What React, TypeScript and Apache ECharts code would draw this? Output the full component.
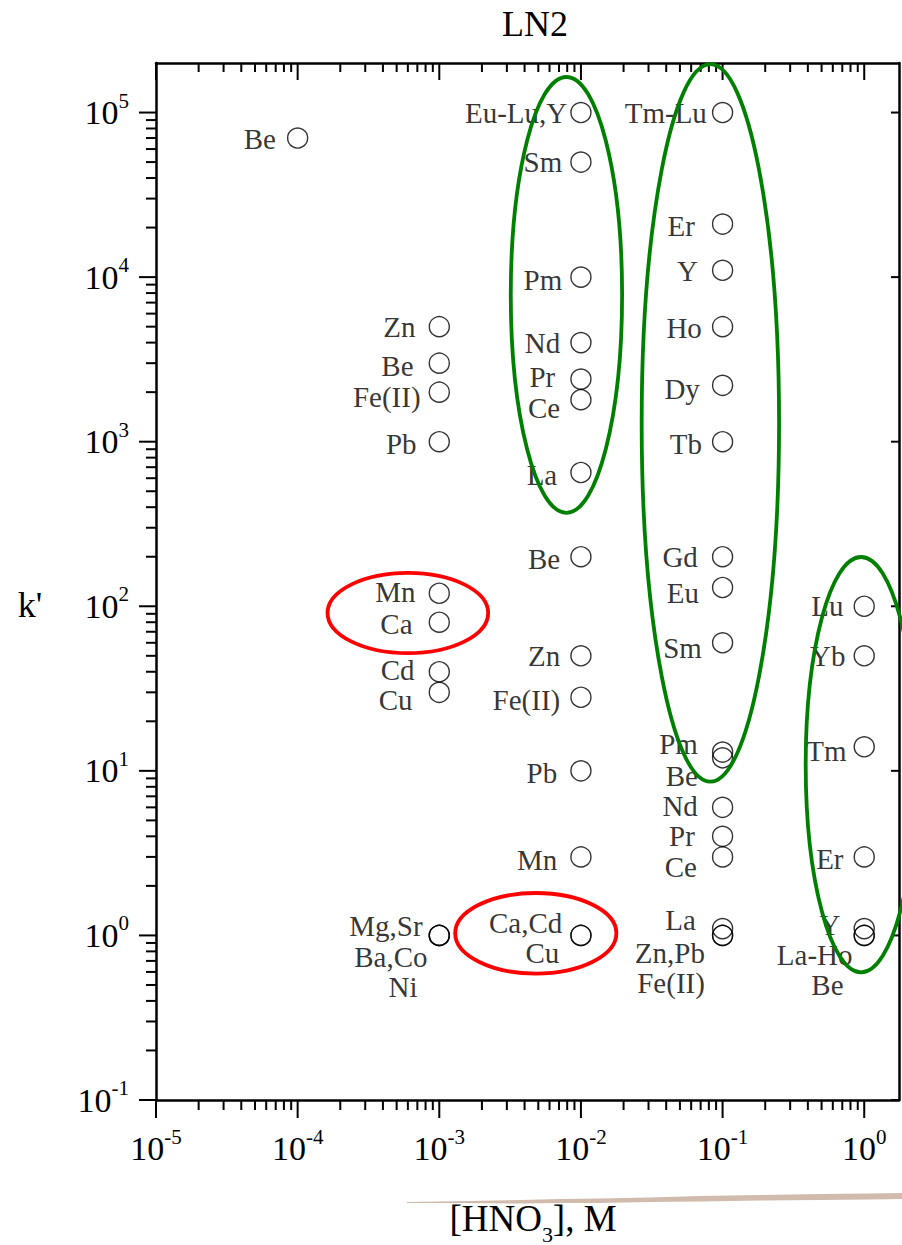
import React, { useEffect, useRef } from 'react';
import * as echarts from 'echarts';

const FONT = '"Liberation Serif", "Times New Roman", Times, serif';

// ---------- data ----------
const elementLabels = [
  'Be',
  'Zn', 'Be', 'Fe(II)', 'Pb', 'Mn', 'Ca', 'Cd', 'Cu', 'Mg,Sr', 'Ba,Co', 'Ni',
  'Eu-Lu,Y', 'Sm', 'Pm', 'Nd', 'Pr', 'Ce', 'La', 'Be', 'Zn', 'Fe(II)', 'Pb', 'Mn', 'Ca,Cd', 'Cu',
  'Tm-Lu', 'Er', 'Y', 'Ho', 'Dy', 'Tb', 'Gd', 'Eu', 'Sm', 'Pm', 'Be', 'Nd', 'Pr', 'Ce', 'La', 'Zn,Pb', 'Fe(II)',
  'Lu', 'Yb', 'Tm', 'Er', 'Y', 'La-Ho', 'Be',
];
const hno3M = [
  1e-4,
  1e-3, 1e-3, 1e-3, 1e-3, 1e-3, 1e-3, 1e-3, 1e-3, 1e-3, 1e-3, 1e-3,
  1e-2, 1e-2, 1e-2, 1e-2, 1e-2, 1e-2, 1e-2, 1e-2, 1e-2, 1e-2, 1e-2, 1e-2, 1e-2, 1e-2,
  0.1, 0.1, 0.1, 0.1, 0.1, 0.1, 0.1, 0.1, 0.1, 0.1, 0.1, 0.1, 0.1, 0.1, 0.1, 0.1, 0.1,
  1, 1, 1, 1, 1, 1, 1,
];
const kPrime = [
  7e4,
  5000, 3000, 2000, 1000, 120, 80, 40, 30, 1, 1, 1,
  1e5, 5e4, 1e4, 4000, 2400, 1800, 650, 200, 50, 28, 10, 3, 1, 1,
  1e5, 2.1e4, 1.1e4, 5000, 2200, 1000, 200, 130, 60, 13, 12, 6, 4, 3, 1.1, 1, 1,
  100, 50, 14, 3, 1.1, 1, 1,
];

// highlighted groups (ellipses): centre and half-extent in decades
const groupHNO3 = [7.9e-3, 8.2e-2, 0.95, 6.0e-4, 4.8e-3];
const groupK = [7.8e3, 1.3e3, 10.9, 91, 1.03];
const groupHalfWidthDec = [0.393, 0.485, 0.391, 0.567, 0.569];
const groupHalfHeightDec = [1.324, 2.18, 1.262, 0.244, 0.245];

const xMajorTicks = [1e-5, 1e-4, 1e-3, 1e-2, 1e-1, 1];
const yMajorTicks = [0.1, 1, 10, 100, 1e3, 1e4, 1e5];
const X_MIN = 1e-5;
const X_MAX = 1.76;
const Y_MIN = 0.1;
const Y_MAX = 2e5;

// ---------- layout / style (kept apart from the data) ----------
const labelShift: [number, number][] = [
  [-3, 1],
  [-5, 0], [-7, 3], [0, 5], [-4, 2], [-5, -1], [-8, 2], [-6, -2], [-8, 8], [2, -9], [7, 22], [-3, 52],
  [5, 0], [0, 0], [0, 3], [-2, 0], [-7, -2], [-2, 8], [-5, 3], [-2, 2], [-2, 0], [-2, 3], [-5, 2], [-5, 3], [0, -12], [-3, 18],
  [3, 0], [-9, 2], [-6, 1], [-2, 1], [-4, 4], [-2, 2], [-6, 0], [-5, 5], [-2, 5], [-6, -8], [-6, 18], [-6, -1], [-9, 0], [-7, 10], [-8, -9], [1, 18], [1, 48],
  [-2, 0], [0, 0], [1, 4], [-2, 2], [-5, -4], [7, 20], [-2, 50],
];
const groupColors = ['#008000', '#008000', '#008000', '#ff0000', '#ff0000'];

function minorOf(majors: number[], max: number) {
  const out: number[] = [];
  majors.forEach((m) => {
    for (let k = 2; k <= 9; k++) if (m * k < max) out.push(m * k);
  });
  return out;
}

const xTickData = [
  ...xMajorTicks.map((v) => [v, Y_MIN, 1]),
  ...minorOf(xMajorTicks, X_MAX).map((v) => [v, Y_MIN, 0]),
];
const yTickData = [
  ...yMajorTicks.map((v) => [X_MIN, v, 1]),
  ...minorOf(yMajorTicks, Y_MAX).map((v) => [X_MIN, v, 0]),
];

const powLabel = (v: number) => {
  const e = Math.round(Math.log10(v));
  if (Math.abs(v / Math.pow(10, e) - 1) > 1e-6) return '';
  return `10{sup|${e}}`;
};

const tickLabel = {
  show: true,
  margin: 26,
  formatter: powLabel,
  fontFamily: FONT,
  fontSize: 34,
  lineHeight: 45,
  color: '#000',
  rich: {
    sup: { fontFamily: FONT, fontSize: 21, verticalAlign: 'top', color: '#000' },
  },
};

const TICK_STYLE = { stroke: '#000', lineWidth: 2 };

function buildOption() {
  const scatterData = elementLabels.map((name, i) => ({
    name,
    value: [hno3M[i], kPrime[i]],
    label: { offset: labelShift[i] },
  }));
  const groupData = groupHNO3.map((x, i) => [x, groupK[i], groupHalfWidthDec[i], groupHalfHeightDec[i]]);

  return {
    animation: false,
    backgroundColor: '#fff',
    grid: { left: 156, top: 63, width: 747, height: 1037, containLabel: false },
    xAxis: [
      {
        type: 'log', logBase: 10, min: X_MIN, max: X_MAX, position: 'bottom',
        axisLine: { show: true, lineStyle: { color: '#000', width: 2.5 } },
        axisTick: { show: false }, splitLine: { show: false }, minorTick: { show: false },
        axisLabel: tickLabel,
      },
      {
        type: 'log', logBase: 10, min: X_MIN, max: X_MAX, position: 'top',
        axisLine: { show: true, lineStyle: { color: '#000', width: 2.5 } },
        axisTick: { show: false }, splitLine: { show: false }, axisLabel: { show: false },
      },
    ],
    yAxis: [
      {
        type: 'log', logBase: 10, min: Y_MIN, max: Y_MAX, position: 'left',
        axisLine: { show: true, lineStyle: { color: '#000', width: 2.5 } },
        axisTick: { show: false }, splitLine: { show: false }, minorTick: { show: false },
        axisLabel: { ...tickLabel, margin: 27 },
      },
      {
        type: 'log', logBase: 10, min: Y_MIN, max: Y_MAX, position: 'right',
        axisLine: { show: true, lineStyle: { color: '#000', width: 2.5 } },
        axisTick: { show: false }, splitLine: { show: false }, axisLabel: { show: false },
      },
    ],
    graphic: [
      {
        type: 'polygon', z: 0, silent: true,
        shape: {
          points: [
            [407, 1202], [440, 1201.5], [470, 1201], [520, 1200], [560, 1199], [600, 1198.5], [650, 1197.5], [700, 1196],
            [760, 1195], [820, 1194], [870, 1193.5], [902, 1193],
            [902, 1199], [870, 1199.5], [820, 1200], [760, 1200.5], [700, 1201.5], [650, 1202], [600, 1203], [560, 1203],
            [520, 1203.5], [470, 1203], [440, 1203], [407, 1203],
          ],
        },
        style: { fill: 'rgba(190,158,138,0.7)' },
      },
      {
        type: 'text', x: 535, y: 24, silent: true,
        style: { text: 'LN2', fontFamily: FONT, fontSize: 36, fill: '#000', textAlign: 'center', textVerticalAlign: 'middle' },
      },
      {
        type: 'text', x: 30, y: 605, silent: true,
        style: { text: "k'", fontFamily: FONT, fontSize: 36, fill: '#000', textAlign: 'center', textVerticalAlign: 'middle' },
      },
      {
        type: 'text', x: 533, y: 1218, silent: true,
        style: {
          text: '{m|[HNO}{s|3}{m|], M}',
          textAlign: 'center', textVerticalAlign: 'middle', fill: '#000',
          rich: {
            m: { fontFamily: FONT, fontSize: 37, lineHeight: 54, verticalAlign: 'middle', fill: '#000' },
            s: { fontFamily: FONT, fontSize: 22, verticalAlign: 'bottom', fill: '#000' },
          },
        },
      },
    ],
    series: [
      {
        type: 'scatter', xAxisIndex: 0, yAxisIndex: 0, z: 3,
        symbol: 'circle', symbolSize: 20,
        itemStyle: { color: 'rgba(255,255,255,0)', borderColor: '#000', borderWidth: 1.4 },
        label: {
          show: true, position: 'left', distance: 8,
          formatter: (p: any) => p.name,
          fontFamily: FONT, fontSize: 29, color: '#000',
        },
        emphasis: { disabled: true },
        data: scatterData,
      },
      {
        type: 'custom', xAxisIndex: 0, yAxisIndex: 0, z: 10, clip: false, silent: true,
        renderItem: (params: any, api: any) => {
          const cx = api.value(0), cy = api.value(1);
          const sx = api.value(2), sy = api.value(3);
          const c = api.coord([cx, cy]);
          const r = api.coord([cx * Math.pow(10, sx), cy * Math.pow(10, sy)]);
          return {
            type: 'ellipse',
            shape: { cx: c[0], cy: c[1], rx: Math.abs(r[0] - c[0]), ry: Math.abs(c[1] - r[1]) },
            style: { fill: 'none', stroke: groupColors[params.dataIndex], lineWidth: 3.8 },
          };
        },
        data: groupData,
      },
      {
        type: 'custom', xAxisIndex: 0, yAxisIndex: 0, z: 4, clip: false, silent: true,
        renderItem: (params: any, api: any) => {
          const cs = params.coordSys;
          const x = api.coord([api.value(0), Y_MIN])[0];
          const major = api.value(2) === 1;
          const bottom = cs.y + cs.height;
          const top = cs.y;
          return {
            type: 'group',
            children: [
              { type: 'line', shape: { x1: x, y1: bottom, x2: x, y2: bottom + (major ? 18 : 10) }, style: TICK_STYLE },
              { type: 'line', shape: { x1: x, y1: top, x2: x, y2: top + (major ? 17 : 9) }, style: TICK_STYLE },
            ],
          };
        },
        data: xTickData,
      },
      {
        type: 'custom', xAxisIndex: 0, yAxisIndex: 0, z: 4, clip: false, silent: true,
        renderItem: (params: any, api: any) => {
          const cs = params.coordSys;
          const y = api.coord([X_MIN, api.value(1)])[1];
          const major = api.value(2) === 1;
          const left = cs.x;
          const right = cs.x + cs.width;
          const children: any[] = [
            { type: 'line', shape: { x1: left - (major ? 17 : 10), y1: y, x2: left, y2: y }, style: TICK_STYLE },
          ];
          if (major) {
            children.push({ type: 'line', shape: { x1: right - 8, y1: y, x2: right, y2: y }, style: TICK_STYLE });
          }
          return { type: 'group', children };
        },
        data: yTickData,
      },
    ],
  };
}

export default function App() {
  const ref = useRef<HTMLDivElement>(null);
  useEffect(() => {
    document.body.style.margin = '0';
    const chart = echarts.init(ref.current!, null, { renderer: 'svg' });
    chart.setOption(buildOption() as any);
    return () => chart.dispose();
  }, []);
  return <div ref={ref} style={{ width: 902, height: 1245 }} />;
}
